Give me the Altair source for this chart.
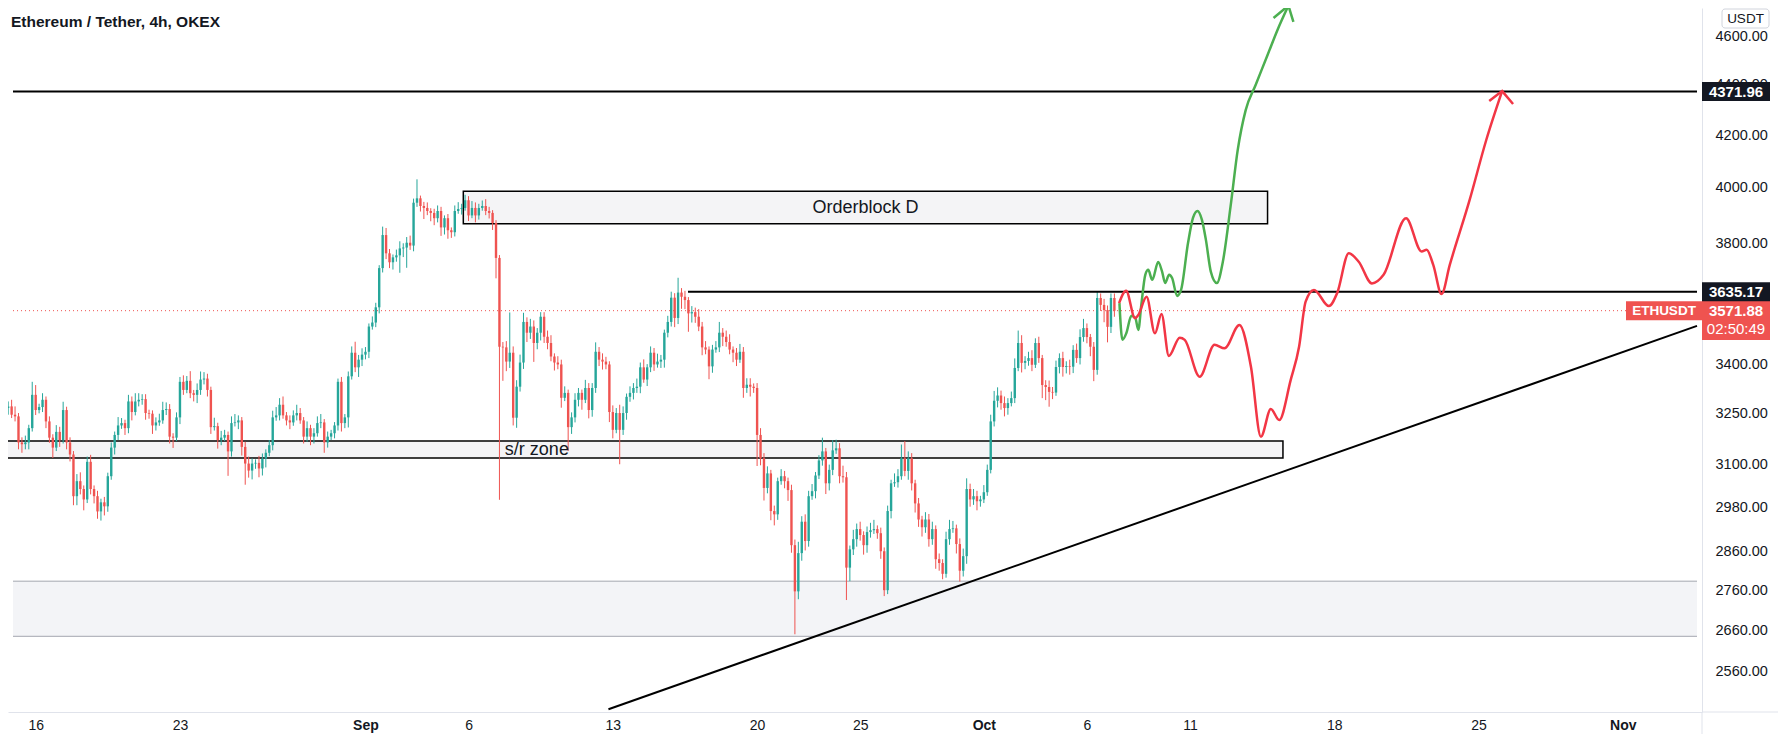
import altair as alt
import pandas as pd

# ---------------- chart values ----------------
first_open = 3265

# 4h closes, 14 Aug 16:00 UTC onwards
close_aug = [3270, 3245, 3240, 3163, 3158, 3163, 3205, 3305, 3259, 3268,
             3290, 3225, 3177, 3148, 3194, 3170, 3259, 3163, 3128, 3010,
             3052, 3030, 3001, 3107, 3030, 3010, 2968, 2993, 2982, 3066,
             3148, 3185, 3213, 3220, 3205, 3285, 3253, 3285, 3290, 3292,
             3250, 3248, 3213, 3222, 3228, 3259, 3262, 3180, 3177, 3237,
             3345, 3320, 3348, 3310, 3305, 3320, 3352, 3355, 3320, 3208,
             3211, 3170, 3177, 3185, 3137, 3220, 3222, 3228, 3150]
close_early_sep = [3102, 3082, 3102, 3104, 3088, 3116, 3133, 3155, 3237, 3243,
                   3275, 3243, 3228, 3222, 3243, 3250, 3228, 3180, 3205, 3180,
                   3190, 3220, 3222, 3163, 3180, 3190, 3213, 3345, 3220, 3237,
                   3362, 3436, 3390, 3414, 3430, 3439, 3520, 3533, 3583, 3715,
                   3830, 3766, 3735, 3752, 3759, 3783, 3786, 3803, 3793, 3946,
                   3962, 3934, 3927, 3916, 3909, 3890, 3916, 3857, 3890, 3847,
                   3840, 3916, 3923, 3927, 3955, 3900, 3927, 3900, 3927, 3934,
                   3916, 3909, 3873, 3750, 3455]
close_mid_sep = [3453, 3408, 3436, 3236, 3330, 3405, 3535, 3500, 3520, 3467,
                 3500, 3552, 3487, 3467, 3424, 3405, 3399, 3296, 3311, 3208,
                 3237, 3290, 3311, 3290, 3326, 3259, 3326,
                 3439, 3414, 3408, 3399, 3253, 3200, 3250, 3200, 3250, 3299,
                 3311, 3326, 3330, 3390, 3352, 3390, 3436, 3399, 3408, 3414,
                 3500, 3535, 3615, 3548, 3632, 3618, 3607, 3563, 3567, 3552,
                 3520, 3453, 3446, 3393, 3446, 3453, 3500, 3487, 3470, 3446,
                 3436, 3414, 3439, 3326, 3336, 3330, 3326, 3185]
close_late_sep = [3117, 3033, 3074, 2969, 2960, 3052, 3066, 3052, 3027, 2877,
                  2757, 2856, 2940, 2888, 3010, 3024, 3068, 3111, 3137, 3046,
                  3084, 3140, 3146, 3066, 3063, 2818, 2866, 2893, 2920, 2904,
                  2877, 2912, 2917, 2920, 2909, 2861, 2760, 2969, 3046, 3049,
                  3066, 3117, 3081, 3117, 3046, 2990, 2946, 2925, 2946, 2893,
                  2920, 2840, 2830, 2802, 2893, 2920, 2922, 2880, 2810, 2848,
                  3030, 3001, 3010, 2996, 3001, 3021, 3084, 3225, 3287, 3303]
close_oct = [3280, 3265, 3280, 3295, 3388, 3467, 3404, 3410, 3419, 3398,
             3467, 3419, 3335, 3329, 3314, 3312, 3391, 3419, 3391, 3394,
             3392, 3445, 3419, 3486, 3515, 3486, 3455, 3382, 3614, 3591,
             3574, 3519, 3614, 3571.88]

# wick length above / below the body (USDT)
wick_up_aug = [15, 20, 25, 10, 15, 20, 10, 40, 30, 10, 20, 10, 15, 10, 20, 15, 25, 10, 15, 10,
               20, 25, 10, 15, 20, 10, 15, 10, 15, 10, 15, 10, 25, 15, 10, 20, 15, 25, 20, 15,
               15, 10, 10, 15, 20, 25, 20, 15, 10, 15, 15, 20, 15, 30, 10, 20, 25, 20, 15, 10,
               25, 10, 20, 15, 10, 20, 25, 15, 10]
wick_dn_aug = [20, 10, 15, 20, 25, 15, 20, 10, 15, 10, 15, 20, 15, 30, 10, 20, 10, 20, 20, 25,
               25, 15, 30, 10, 15, 20, 20, 25, 25, 15, 10, 20, 15, 10, 20, 15, 25, 10, 15, 15,
               20, 15, 25, 15, 10, 10, 15, 20, 30, 10, 20, 15, 10, 15, 20, 25, 15, 15, 20, 20,
               10, 25, 15, 10, 70, 15, 10, 20, 25]
wick_up_early_sep = [15, 20, 15, 10, 20, 15, 10, 15, 20, 25, 20, 25, 10, 15, 15, 25, 15, 10, 20, 10,
                     15, 20, 25, 10, 15, 10, 10, 10, 15, 10, 15, 20, 35, 15, 20, 15, 10, 20, 15, 10,
                     30, 25, 15, 10, 20, 25, 15, 20, 25, 15, 70, 10, 15, 20, 10, 15, 20, 15, 10, 15,
                     10, 20, 25, 15, 20, 15, 25, 20, 15, 20, 25, 15, 10, 10, 10]
wick_dn_early_sep = [60, 20, 25, 15, 25, 20, 25, 10, 15, 10, 15, 10, 15, 20, 10, 15, 10, 20, 15, 25,
                     20, 10, 15, 30, 15, 10, 15, 15, 25, 15, 30, 10, 15, 30, 20, 15, 20, 10, 15, 20,
                     15, 20, 20, 25, 15, 60, 30, 70, 15, 20, 15, 20, 40, 15, 30, 25, 15, 30, 25, 30,
                     20, 15, 10, 20, 10, 20, 10, 25, 15, 10, 15, 20, 25, 70, 455]
wick_up_mid_sep = [15, 20, 130, 20, 20, 25, 30, 15, 25, 20, 15, 15, 15, 20, 25, 10, 20, 15, 20, 10,
                   15, 20, 15, 10, 25, 15, 15,
                   30, 15, 20, 15, 10, 20, 15, 25, 20, 10, 20, 15, 25, 15, 25, 10, 20, 15, 25, 15,
                   10, 20, 20, 15, 50, 15, 20, 10, 20, 15, 25, 15, 20, 10, 15, 20, 35, 15, 20, 25,
                   10, 15, 25, 15, 20, 20, 10, 15]
wick_dn_mid_sep = [105, 30, 20, 23, 30, 15, 20, 30, 20, 60, 20, 25, 20, 20, 15, 25, 15, 30, 10, 70,
                   20, 15, 20, 30, 10, 25, 20,
                   15, 20, 25, 15, 30, 25, 10, 100, 15, 20, 15, 20, 15, 20, 10, 20, 15, 20, 10, 20,
                   25, 15, 15, 30, 20, 40, 30, 60, 30, 20, 15, 25, 15, 40, 20, 10, 15, 30, 15, 15,
                   30, 20, 10, 30, 15, 30, 15, 90]
wick_up_late_sep = [20, 15, 20, 10, 15, 10, 20, 15, 10, 15, 15, 30, 15, 20, 15, 20, 10, 15, 40, 10,
                    15, 30, 25, 15, 30, 15, 10, 25, 15, 20, 10, 15, 20, 25, 10, 15, 10, 15, 10, 25,
                    20, 40, 50, 20, 15, 10, 15, 10, 20, 15, 20, 10, 15, 10, 20, 25, 20, 10, 15, 20,
                    30, 15, 20, 15, 10, 20, 15, 20, 30, 25]
wick_dn_late_sep = [20, 35, 15, 25, 30, 15, 10, 20, 30, 20, 107, 20, 20, 25, 15, 10, 20, 10, 15, 30,
                    20, 15, 10, 20, 15, 83, 35, 15, 20, 15, 25, 20, 15, 10, 15, 20, 15, 10, 20, 10,
                    15, 10, 15, 25, 20, 25, 20, 25, 15, 20, 15, 25, 20, 14, 10, 15, 10, 25, 28, 15,
                    20, 20, 15, 25, 15, 10, 10, 10, 15, 20]
wick_up_oct = [15, 20, 15, 20, 30, 40, 25, 15, 20, 25, 15, 20, 10, 15, 20, 15, 20, 15, 20, 15,
               20, 15, 20, 25, 30, 15, 10, 15, 21, 15, 20, 15, 15, 15]
wick_dn_oct = [20, 25, 20, 10, 15, 10, 30, 20, 15, 20, 10, 15, 40, 40, 45, 20, 10, 20, 30, 20,
               25, 20, 15, 20, 15, 20, 30, 35, 15, 20, 40, 50, 20, 20]

# drawings (time as days after 16 Aug 2021 00:00 UTC, price in USDT)
level_top = 4371.96
level_mid = 3635.17
level_mid_start_day = 31.647
last_price = 3571.88
countdown = "02:50:49"
orderblock = dict(d1=20.747, d2=59.764, p1=3870, p2=3988)
sr_zone = dict(d1=-3.0, d2=60.511, p1=3118, p2=3167)
low_zone = dict(p1=2645, p2=2783)
trend_days = [27.789, 80.598]
trend_prices = [2473, 3522]

green_days = [52.578, 52.722, 52.915, 53.156, 53.349, 53.494, 53.639, 53.832, 53.976, 54.169,
              54.458, 54.651, 54.796, 54.989, 55.134, 55.375, 55.568, 55.905, 56.146, 56.363,
              56.580, 56.773, 57.014, 57.304, 57.593, 57.979, 58.317, 58.703, 59.185, 59.764,
              60.246, 60.776]
green_prices = [3597, 3477, 3499, 3555, 3548, 3509, 3591, 3692, 3709, 3675,
                3736, 3702, 3664, 3692, 3681, 3621, 3641, 3802, 3891, 3916,
                3884, 3813, 3702, 3664, 3736, 3938, 4143, 4298, 4399, 4522,
                4628, 4733]
red_days = [52.563, 52.901, 53.335, 53.494, 53.894, 54.299, 54.618, 54.975, 55.505, 55.746,
            56.470, 57.193, 57.676, 58.399, 58.958, 59.441, 59.923, 60.328, 60.888, 61.293,
            61.611, 62.016, 62.740, 63.140, 63.704, 64.187, 64.828, 65.392, 66.482, 67.239,
            67.480, 67.803, 68.204, 68.604, 69.568, 70.374, 71.145]
red_prices = [3597, 3638, 3547, 3558, 3618, 3498, 3561, 3426, 3484, 3477,
              3361, 3461, 3450, 3525, 3392, 3180, 3262, 3229, 3351, 3455,
              3602, 3641, 3587, 3630, 3766, 3737, 3663, 3692, 3890, 3772,
              3778, 3726, 3627, 3726, 3956, 4181, 4374]
green_head_days = [60.053, 60.776, 61.018]
green_head_prices = [4679, 4733, 4662]
red_head_days = [70.518, 71.145, 71.675]
red_head_prices = [4334, 4374, 4322]

x_tick_dates = ["2021-08-16", "2021-08-23", "2021-09-01", "2021-09-06", "2021-09-13",
                "2021-09-20", "2021-09-25", "2021-10-01", "2021-10-06", "2021-10-11",
                "2021-10-18", "2021-10-25", "2021-11-01"]
y_ticks = [2560, 2660, 2760, 2860, 2980, 3100, 3250, 3400, 3800, 4000, 4200, 4400, 4600]

title_text = "Ethereum / Tether, 4h, OKEX"

# ---------------- build ----------------
W, H = 1694, 704
PAD_R, PAD_B = 76, 22
DAY = 86_400_000
H4 = 4 * 3_600_000
BASE = int(pd.Timestamp("2021-08-16", tz="UTC").value // 1_000_000)


def ts(d):
    return BASE + d * DAY


X_LO, X_HI = -1.0996, 80.598
P_LO, P_HI = 2466.6, 4722.5

closes = close_aug + close_early_sep + close_mid_sep + close_late_sep + close_oct
wu = wick_up_aug + wick_up_early_sep + wick_up_mid_sep + wick_up_late_sep + wick_up_oct
wd = wick_dn_aug + wick_dn_early_sep + wick_dn_mid_sep + wick_dn_late_sep + wick_dn_oct
assert len(closes) == len(wu) == len(wd), (len(closes), len(wu), len(wd))
opens = [first_open] + closes[:-1]
t0 = BASE - 32 * 3_600_000
candles = pd.DataFrame({
    "t": [t0 + i * H4 for i in range(len(closes))],
    "open": opens,
    "close": closes,
    "high": [max(o, c) + u for o, c, u in zip(opens, closes, wu)],
    "low": [min(o, c) - d for o, c, d in zip(opens, closes, wd)],
})

FONT = "Liberation Sans"
TXT = "#131722"
xscale = alt.Scale(type="utc", domain=[ts(X_LO), ts(X_HI)])
yscale = alt.Scale(type="log", domain=[P_LO, P_HI], nice=False, zero=False)
x_axis = alt.Axis(
    values=[int(pd.Timestamp(s, tz="UTC").value // 1_000_000) for s in x_tick_dates],
    labelExpr="utcdate(datum.value) == 1 ? utcFormat(datum.value, '%b') : '' + utcdate(datum.value)",
    labelFontWeight={"condition": {"test": "utcdate(datum.value) == 1", "value": "bold"}, "value": "normal"},
    title=None, ticks=False, grid=False, domainColor="#e0e3eb", domainWidth=1,
    labelFont=FONT, labelFontSize=14, labelColor=TXT, labelPadding=13, labelBaseline="middle",
    labelOverlap=False, labelFlush=False,
)
y_axis = alt.Axis(
    orient="right", values=y_ticks, format=".2f", title=None, ticks=False, grid=False,
    domainColor="#e0e3eb", domainWidth=1, labelFont=FONT, labelFontSize=14.5, labelColor=TXT,
    labelPadding=13, labelOverlap=False, labelFlush=False, labelAlign="left", labelBaseline="middle",
)


def X(f):
    return alt.X(f"{f}:T", scale=xscale, axis=x_axis)


def Y(f):
    return alt.Y(f"{f}:Q", scale=yscale, axis=y_axis)


updown = alt.condition("datum.close >= datum.open", alt.value("#26a69a"), alt.value("#ef5350"))

# zones
low_df = pd.DataFrame({"t1": [ts(X_LO)], "t2": [ts(X_HI)],
                       "p1": [low_zone["p1"]], "p2": [low_zone["p2"]]})
low_fill = alt.Chart(low_df).mark_rect(fill="#f3f4f7", clip=True).encode(
    x=X("t1"), x2="t2:T", y=Y("p1"), y2="p2:Q")
low_lines_df = pd.DataFrame({"t1": [ts(X_LO)] * 2, "t2": [ts(X_HI)] * 2,
                             "p": [low_zone["p1"], low_zone["p2"]]})
low_lines = alt.Chart(low_lines_df).mark_rule(color="#a3a6af", strokeWidth=1).encode(
    x=X("t1"), x2="t2:T", y=Y("p"))

box_df = pd.DataFrame({
    "t1": [ts(sr_zone["d1"]), ts(orderblock["d1"])],
    "t2": [ts(sr_zone["d2"]), ts(orderblock["d2"])],
    "p1": [sr_zone["p1"], orderblock["p1"]],
    "p2": [sr_zone["p2"], orderblock["p2"]],
})
boxes = alt.Chart(box_df).mark_rect(fill="#f4f4f6", stroke="black", strokeWidth=1.5, clip=True).encode(
    x=X("t1"), x2="t2:T", y=Y("p1"), y2="p2:Q")

# current price dotted line
cur_df = pd.DataFrame({"t1": [ts(X_LO)], "t2": [ts(X_HI)], "p": [last_price]})
cur_line = alt.Chart(cur_df).mark_rule(color="#ef5350", strokeWidth=1, strokeDash=[1, 3]).encode(
    x=X("t1"), x2="t2:T", y=Y("p"))

# candles
wicks = alt.Chart(candles).mark_rule(strokeWidth=1, clip=True).encode(
    x=X("t"), y=Y("low"), y2="high:Q", color=updown)
bodies = alt.Chart(candles).mark_bar(size=2.4, clip=True).encode(
    x=X("t"), y=Y("open"), y2="close:Q", color=updown)

# horizontal levels
lev_df = pd.DataFrame({"t1": [ts(X_LO), ts(level_mid_start_day)], "t2": [ts(X_HI)] * 2,
                       "p": [level_top, level_mid]})
levels = alt.Chart(lev_df).mark_rule(color="black", strokeWidth=2).encode(
    x=X("t1"), x2="t2:T", y=Y("p"))

# trend line
tr_df = pd.DataFrame({"t": [ts(d) for d in trend_days], "p": trend_prices})
trend = alt.Chart(tr_df).mark_line(color="black", strokeWidth=2, clip=True).encode(x=X("t"), y=Y("p"))

# projections
g_df = pd.DataFrame({"t": [ts(d) for d in green_days], "p": green_prices})
r_df = pd.DataFrame({"t": [ts(d) for d in red_days], "p": red_prices})
green_path = alt.Chart(g_df).mark_line(color="#4caf50", strokeWidth=2.5, interpolate="monotone",
                                       clip=True).encode(x=X("t"), y=Y("p"))
red_path = alt.Chart(r_df).mark_line(color="#f23645", strokeWidth=2.5, interpolate="monotone",
                                     clip=True).encode(x=X("t"), y=Y("p"))
heads = []
for days, prices, col in [(green_head_days, green_head_prices, "#4caf50"),
                          (red_head_days, red_head_prices, "#f23645")]:
    hd = pd.DataFrame({"t": [ts(d) for d in days], "p": prices, "k": list(range(len(days)))})
    heads.append(alt.Chart(hd).mark_line(color=col, strokeWidth=2.5, clip=True).encode(
        x=X("t"), y=Y("p"), order="k:Q"))

# zone labels
note_df = pd.DataFrame({
    "t": [ts((orderblock["d1"] + orderblock["d2"]) / 2), ts(24.316)],
    "p": [(orderblock["p1"] * orderblock["p2"]) ** 0.5, (sr_zone["p1"] * sr_zone["p2"]) ** 0.5],
    "label": ["Orderblock D", "s/r zone"],
})
notes = alt.Chart(note_df).mark_text(font=FONT, fontSize=18, color=TXT, baseline="middle",
                                     align="center").encode(x=X("t"), y=Y("p"), text="label:N")

# title
title_df = pd.DataFrame({"label": [title_text]})
title = alt.Chart(title_df).mark_text(font=FONT, fontSize=15.5, fontWeight="bold", color=TXT,
                                      align="left", baseline="middle").encode(
    x=alt.value(3), y=alt.value(14), text="label:N")

# price-scale labels
pl_df = pd.DataFrame({"p": [level_top, level_mid], "label": [f"{level_top:.2f}", f"{level_mid:.2f}"]})
pl_box = alt.Chart(pl_df).mark_rule(color="#131722", strokeWidth=19, strokeCap="butt").encode(
    x=alt.value(W), x2=alt.value(W + 68), y=Y("p"))
pl_txt = alt.Chart(pl_df).mark_text(font=FONT, fontSize=15, fontWeight="bold", color="white",
                                    align="center", baseline="middle").encode(
    x=alt.value(W + 34), y=Y("p"), text="label:N")

cp_df = pd.DataFrame({"p": [last_price], "price": [f"{last_price:.2f}"], "cd": [countdown],
                      "sym": ["ETHUSDT"]})
cp_box = alt.Chart(cp_df).mark_rule(color="#ef5350", strokeWidth=39, strokeCap="butt", yOffset=9.7).encode(
    x=alt.value(W), x2=alt.value(W + 68), y=Y("p"))
sym_box = alt.Chart(cp_df).mark_rule(color="#ef5350", strokeWidth=19, strokeCap="butt").encode(
    x=alt.value(W - 76), x2=alt.value(W), y=Y("p"))
sym_txt = alt.Chart(cp_df).mark_text(font=FONT, fontSize=13.5, fontWeight="bold", color="white",
                                     align="center", baseline="middle").encode(
    x=alt.value(W - 38), y=Y("p"), text="sym:N")
cp_txt = alt.Chart(cp_df).mark_text(font=FONT, fontSize=15, fontWeight="bold", color="white",
                                    align="center", baseline="middle").encode(
    x=alt.value(W + 34), y=Y("p"), text="price:N")
cd_txt = alt.Chart(cp_df).mark_text(font=FONT, fontSize=15, color="white", align="center",
                                    baseline="middle", dy=18).encode(
    x=alt.value(W + 34), y=Y("p"), text="cd:N")

usdt_df = pd.DataFrame({"label": ["USDT"]})
usdt_box = alt.Chart(usdt_df).mark_rect(fill="white", stroke="#d1d4dc", strokeWidth=1,
                                        cornerRadius=3).encode(
    x=alt.value(W + 20), x2=alt.value(W + 67), y=alt.value(1), y2=alt.value(20))
usdt_txt = alt.Chart(usdt_df).mark_text(font=FONT, fontSize=13.5, color=TXT, align="center",
                                        baseline="middle").encode(
    x=alt.value(W + 43.5), y=alt.value(11), text="label:N")

sep_v = alt.Chart(usdt_df).mark_rule(color="#e0e3eb", strokeWidth=1).encode(
    x=alt.value(W), y=alt.value(H), y2=alt.value(H + PAD_B))
sep_h = alt.Chart(usdt_df).mark_rule(color="#e0e3eb", strokeWidth=1).encode(
    x=alt.value(W), x2=alt.value(W + PAD_R), y=alt.value(H))

chart = alt.layer(
    low_fill, low_lines, boxes, cur_line, wicks, bodies, levels, trend,
    green_path, red_path, *heads, notes, title,
    sym_box, cp_box, pl_box, pl_txt, sym_txt, cp_txt, cd_txt, usdt_box, usdt_txt, sep_v, sep_h,
).properties(
    width=W, height=H, background="white",
    autosize=alt.AutoSizeParams(type="none"),
    padding={"left": 0, "top": 0, "right": PAD_R, "bottom": PAD_B},
).configure_view(strokeWidth=0)

chart.save("out.html", embed_options={"renderer": "svg", "actions": False})
